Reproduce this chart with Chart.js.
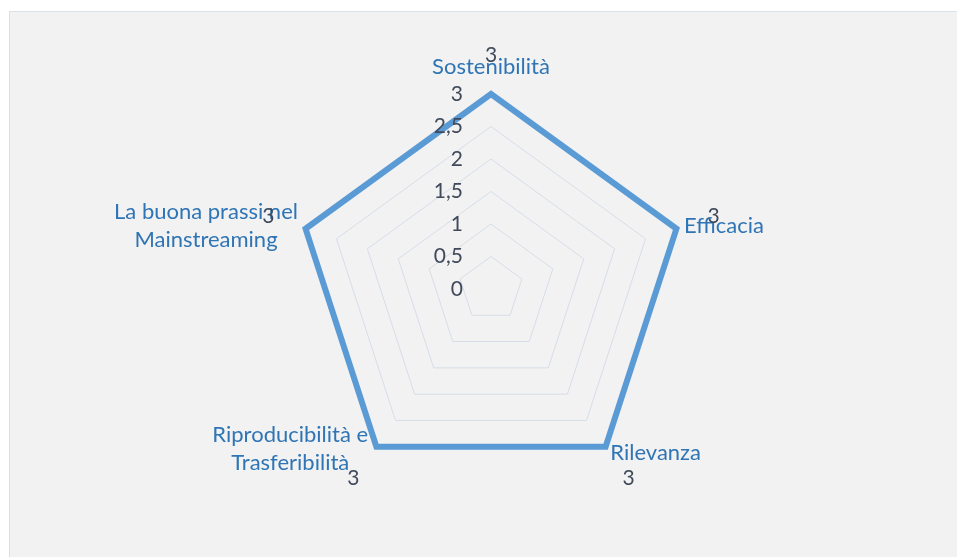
<!DOCTYPE html>
<html><head><meta charset="utf-8">
<script src="https://cdn.jsdelivr.net/npm/chart.js@4/dist/chart.umd.min.js"></script>
<style>
html,body{margin:0;padding:0;background:#fff;width:957px;height:557px;overflow:hidden}
#frame{position:absolute;left:9px;top:11px;width:960px;height:560px;background:#f2f2f2;border:1px solid #d9e0ea;}
#wrap{position:absolute;left:0;top:0;width:957px;height:557px}
</style></head><body>
<div id="frame"></div>
<div id="wrap"><canvas id="c" width="957" height="557"></canvas></div>
<script>
const categories = [
  ['Sostenibilità'],
  ['Efficacia'],
  ['Rilevanza'],
  ['Riproducibilità e', 'Trasferibilità'],
  ['La buona prassi nel', 'Mainstreaming']
];
const values = [3, 3, 3, 3, 3];
const tickValues = [0, 0.5, 1, 1.5, 2, 2.5, 3];
const tickLabels = ['0', '0,5', '1', '1,5', '2', '2,5', '3'];
const dataLabels = ['3', '3', '3', '3', '3'];

const LABEL_FONT = '22px Lato';
const TICK_FONT = '21px Lato';
const LABEL_COLOR = '#2f75b5';
const TEXT_DARK = '#404a5a';

const labelsPlugin = {
  id: 'customLabels',
  afterDatasetsDraw(chart) {
    const scale = chart.scales.r;
    const ctx = chart.ctx;
    const R = scale.getDistanceFromCenterForValue(scale.max);
    ctx.save();
    // tick labels
    ctx.font = TICK_FONT;
    ctx.fillStyle = TEXT_DARK;
    ctx.textAlign = 'right';
    ctx.textBaseline = 'middle';
    tickValues.forEach((v, i) => {
      const y = scale.yCenter - scale.getDistanceFromCenterForValue(v);
      ctx.fillText(tickLabels[i], scale.xCenter - 28, y);
    });
    // category labels
    ctx.font = LABEL_FONT;
    ctx.fillStyle = LABEL_COLOR;
    const lh = 28;
    categories.forEach((lines, i) => {
      let p = scale.getPointPosition(i, R + 8);
      const dx = p.x - scale.xCenter;
      const widths = lines.map(l => ctx.measureText(l).width);
      const maxW = Math.max(...widths);
      let cx;
      let cy = p.y;
      if (Math.abs(dx) < 5) {
        p = scale.getPointPosition(i, R + 27);
        cx = p.x; cy = p.y;
      } else if (dx > 0) {
        cx = p.x + maxW / 2;
      } else {
        if (p.y > scale.yCenter) { p = scale.getPointPosition(i, R + 14); cy = p.y - 9; }
        cx = p.x - maxW / 2;
      }
      ctx.textAlign = 'center';
      const y0 = cy - (lines.length - 1) * lh / 2;
      lines.forEach((l, k) => ctx.fillText(l, cx, y0 + k * lh));
    });
    // data labels
    ctx.font = TICK_FONT;
    ctx.fillStyle = TEXT_DARK;
    ctx.textAlign = 'center';
    values.forEach((v, i) => {
      const p = scale.getPointPosition(i, scale.getDistanceFromCenterForValue(v) + 39);
      ctx.fillText(dataLabels[i], p.x, p.y);
    });
    ctx.restore();
  }
};

new Chart(document.getElementById('c'), {
  type: 'radar',
  data: {
    labels: categories,
    datasets: [{
      data: values,
      borderColor: '#5b9bd5',
      backgroundColor: 'rgba(0,0,0,0)',
      borderWidth: 6,
      borderJoinStyle: 'miter',
      fill: false,
      pointRadius: 0,
      pointHoverRadius: 0
    }]
  },
  options: {
    responsive: false,
    animation: false,
    devicePixelRatio: 1,
    layout: { padding: { top: 94, bottom: 73, left: 100, right: 75 } },
    plugins: { legend: { display: false }, tooltip: { enabled: false } },
    scales: {
      r: {
        min: 0,
        max: 3,
        ticks: { display: false, stepSize: 0.5 },
        grid: { color: '#d6dde8', lineWidth: 1 },
        angleLines: { display: false },
        pointLabels: { display: false }
      }
    }
  },
  plugins: [labelsPlugin]
});
</script>
</body></html>
